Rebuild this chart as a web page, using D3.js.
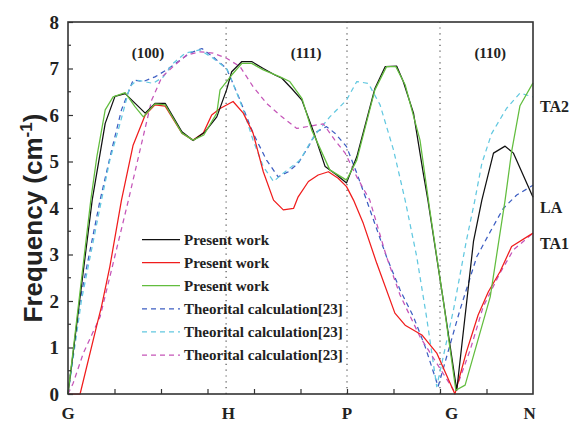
<!DOCTYPE html>
<html><head><meta charset="utf-8">
<script src="https://cdn.jsdelivr.net/npm/d3@7"></script>
<style>html,body{margin:0;padding:0;background:#fff;}svg{display:block;}</style>
</head><body><svg id="c" width="570" height="423"></svg>
<script>
// ---- data (x: path coordinate along G-H-P-G-N, y: frequency) ----
const blackX = [0,0.52,0.80,1.01,1.23,1.66,1.87,2.09,2.45,2.69,2.95,3.20,3.41,3.52,3.74,3.95,4.20,4.45,4.60,4.81,5.03,5.28,5.53,5.78,5.99,6.21,6.42,6.60,6.82,7.07,7.21,7.43,7.64,7.74,8.07,8.36,8.72,8.90,9.15,9.40,9.58,10.0];
const blackY = [0,4.17,5.82,6.40,6.46,6.04,6.25,6.25,5.64,5.45,5.64,5.96,6.54,6.93,7.15,7.15,7.00,6.86,6.79,6.57,6.32,5.64,4.89,4.71,4.54,5.10,5.89,6.57,7.04,7.05,6.72,6.04,4.75,4.17,2.02,0.08,3.28,4.17,5.18,5.33,5.18,4.23];
const redX = [0,0.26,0.62,0.72,0.90,1.15,1.40,1.66,1.87,2.09,2.45,2.69,2.91,3.09,3.27,3.55,3.77,3.98,4.20,4.42,4.63,4.85,4.95,5.17,5.38,5.60,5.81,5.99,6.14,6.35,6.64,7.03,7.25,7.61,7.93,8.32,8.57,8.82,9.04,9.29,9.54,10.0];
const redY = [0,0,1.48,1.88,2.74,4.17,5.35,6.00,6.22,6.19,5.61,5.46,5.61,6.00,6.14,6.29,6.04,5.61,4.78,4.17,3.96,3.99,4.24,4.57,4.71,4.78,4.64,4.46,4.17,3.67,2.81,1.74,1.48,1.27,0.88,0,0.91,1.70,2.20,2.63,3.17,3.46];
const greenX = [0,0.49,0.62,0.80,0.97,1.23,1.44,1.62,1.87,2.09,2.45,2.69,2.92,3.20,3.27,3.52,3.74,3.95,4.20,4.56,4.77,5.03,5.24,5.63,5.99,6.21,6.60,6.85,7.05,7.25,7.57,7.78,8.07,8.34,8.54,9.08,9.40,9.54,9.72,10.0];
const greenY = [0,4.17,5.10,6.11,6.39,6.48,6.18,5.96,6.24,6.22,5.61,5.46,5.57,6.04,6.54,6.86,7.11,7.11,6.97,6.82,6.72,6.36,5.68,4.82,4.60,5.03,6.54,7.04,7.04,6.65,5.46,3.96,2.02,0.08,0.19,2.09,4.17,5.21,6.20,6.69];
const blueX = [0,0.26,0.69,0.94,1.15,1.40,1.62,1.87,2.12,2.37,2.62,2.88,3.12,3.41,3.70,3.98,4.27,4.52,4.74,4.95,5.17,5.35,5.56,5.74,5.99,6.21,6.42,6.85,7.14,7.43,7.68,7.96,8.43,8.79,9.08,9.36,9.65,10.0];
const blueY = [0,2.02,4.17,5.25,6.11,6.75,6.72,6.82,6.97,7.15,7.33,7.43,7.25,7.00,6.32,5.61,5.03,4.67,4.78,4.96,5.32,5.64,5.75,5.61,5.32,4.75,4.17,2.95,2.24,1.66,1.02,0.16,1.81,2.95,3.49,3.99,4.28,4.49];
const cyanX = [0,0.29,0.72,0.90,1.12,1.33,1.48,1.83,2.05,2.26,2.52,2.84,3.12,3.41,3.55,3.77,3.98,4.20,4.42,4.63,4.99,5.28,5.63,5.99,6.21,6.46,6.71,7.00,7.25,7.50,7.71,7.93,8.29,8.57,8.75,8.90,9.11,9.43,9.72,10.0];
const cyanY = [0,2.02,4.17,5.03,5.82,6.61,6.75,6.68,6.82,7.11,7.33,7.40,7.22,7.00,6.68,6.11,5.46,4.89,4.57,4.75,5.03,5.53,5.96,6.32,6.72,6.68,6.22,5.25,4.17,2.95,1.66,0.16,1.81,3.31,4.17,4.96,5.60,6.14,6.47,6.39];
const magentaX = [0,0.11,0.33,0.51,0.69,0.90,1.30,1.55,1.80,2.02,2.26,2.55,2.84,3.12,3.41,3.70,3.98,4.27,4.60,4.92,5.20,5.49,5.74,5.96,6.21,6.49,6.85,7.14,7.57,7.93,8.32,8.65,8.93,9.29,9.58,10.0];
const magentaY = [0,0.23,0.88,1.27,1.66,2.52,4.17,5.25,6.32,6.82,7.04,7.29,7.36,7.33,7.22,7.04,6.61,6.25,5.96,5.71,5.76,5.81,5.46,5.18,4.67,4.17,2.95,2.13,1.23,0.66,0.04,0.95,1.88,2.60,3.10,3.46];

const seriesNames = ["Present work","Present work","Present work","Theorital calculation[23]","Theorital calculation[23]","Theorital calculation[23]"];
const pointLabels = ["G","H","P","G","N"];
const pointLabelX = [0,3.45,6.0,8.25,9.93];
const boundaryX = [3.4,6,8];
const yTicks = [0,1,2,3,4,5,6,7,8];
const panelLabels = ["(100)","(111)","(110)"];
const panelLabelX = [1.72,5.12,9.08];
const branchLabels = ["TA2","LA","TA1"];
const branchLabelY = [6.2,4.03,3.25];

// ---- chart ----
const W = 570, H = 423;
const m = {l:68, r:37, t:22, b:29};
const svg = d3.select("#c");
const x = d3.scaleLinear().domain([0,10]).range([m.l, W - m.r]);
const y = d3.scaleLinear().domain([0,8]).range([H - m.b, m.t]);

const serif = "'Liberation Serif','Times New Roman',serif";

// dotted boundaries
svg.append("g").selectAll("line").data(boundaryX).join("line")
  .attr("x1", d=>x(d)).attr("x2", d=>x(d))
  .attr("y1", y(0)).attr("y2", y(8))
  .attr("stroke", "#444").attr("stroke-width", 1.1)
  .attr("stroke-dasharray", "1.2,4.6");

const series = [
  {X:blackX, Y:blackY, c:"#111111", dash:null},
  {X:redX, Y:redY, c:"#f01c1c", dash:null},
  {X:greenX, Y:greenY, c:"#62bd3e", dash:null},
  {X:blueX, Y:blueY, c:"#3d5ec2", dash:"5,4"},
  {X:cyanX, Y:cyanY, c:"#62c8e0", dash:"5,4"},
  {X:magentaX, Y:magentaY, c:"#c555b8", dash:"5,4"}
];
const line = d3.line().x(d=>x(d[0])).y(d=>y(d[1]));
const drawOrder = [3,4,5,1,0,2];
drawOrder.forEach(i=>{
  const s = series[i];
  const pts = s.X.map((v,k)=>[v, s.Y[k]]);
  svg.append("path").datum(pts).attr("d", line)
    .attr("fill","none").attr("stroke", s.c).attr("stroke-width", 1.25)
    .attr("stroke-linejoin","round")
    .attr("stroke-dasharray", s.dash);
});

// axes
const axisColor = "#333";
const yAxis = d3.axisLeft(y).tickValues(yTicks).tickSize(-5).tickPadding(9).tickFormat(d3.format("d"));
const gy = svg.append("g").attr("transform", `translate(${m.l},0)`).call(yAxis);
gy.select(".domain").remove();
gy.selectAll(".tick line").attr("stroke", axisColor).attr("stroke-width", 1.2);
gy.selectAll(".tick text").attr("font-family", serif).attr("font-weight","bold")
  .attr("font-size", 19).attr("fill","#222");
// minor y ticks
const minorY = d3.range(0.5, 8, 1);
svg.append("g").selectAll("line").data(minorY).join("line")
  .attr("x1", m.l).attr("x2", m.l + 3).attr("y1", d=>y(d)).attr("y2", d=>y(d))
  .attr("stroke", axisColor).attr("stroke-width", 1.2);

const xAxis = d3.axisBottom(x).tickValues(d3.range(1,10)).tickSize(-5).tickFormat("");
const gx = svg.append("g").attr("transform", `translate(0,${y(0)})`).call(xAxis);
gx.select(".domain").remove();
gx.selectAll(".tick line").attr("stroke", axisColor).attr("stroke-width", 1.2);

// frame
svg.append("rect").attr("x", m.l).attr("y", m.t)
  .attr("width", x(10)-x(0)).attr("height", y(0)-y(8))
  .attr("fill","none").attr("stroke", axisColor).attr("stroke-width", 1.6);

// symmetry point labels
svg.append("g").selectAll("text").data(pointLabels).join("text")
  .attr("x", (d,i)=>x(pointLabelX[i])).attr("y", 419)
  .attr("text-anchor","middle").attr("font-family", serif).attr("font-weight","bold")
  .attr("font-size", 17).attr("fill","#222").text(d=>d);

// panel labels
svg.append("g").selectAll("text").data(panelLabels).join("text")
  .attr("x", (d,i)=>x(panelLabelX[i])).attr("y", 57.5)
  .attr("text-anchor","middle").attr("font-family", serif).attr("font-weight","bold")
  .attr("font-size", 15).attr("fill","#222").text(d=>d);

// branch labels
svg.append("g").selectAll("text").data(branchLabels).join("text")
  .attr("x", 540).attr("y", (d,i)=>y(branchLabelY[i]) + 6)
  .attr("font-family", serif).attr("font-weight","bold")
  .attr("font-size", 16).attr("fill","#222").text(d=>d);

// y title
const yt = svg.append("text")
  .attr("transform", "translate(42,218) rotate(-90)")
  .attr("text-anchor","middle")
  .attr("font-family","'Liberation Sans',Arial,sans-serif").attr("font-weight","bold")
  .attr("font-size", 26).attr("fill","#222");
yt.append("tspan").text("Frequency (cm");
yt.append("tspan").attr("dy", -10).attr("font-size", 17).text("-1");
yt.append("tspan").attr("dy", 10).text(")");

// legend
const legY0 = 239.5, legDy = 23.1;
const lg = svg.append("g");
series.forEach((s,i)=>{
  const yy = legY0 + i*legDy;
  lg.append("line").attr("x1", 142).attr("x2", 180).attr("y1", yy).attr("y2", yy)
    .attr("stroke", s.c).attr("stroke-width", 1.25).attr("stroke-dasharray", s.dash);
  lg.append("text").attr("x", 184).attr("y", yy + 5)
    .attr("font-family", serif).attr("font-weight","bold").attr("font-size", 15)
    .attr("fill","#222").text(seriesNames[i]);
});
</script>
</body></html>
